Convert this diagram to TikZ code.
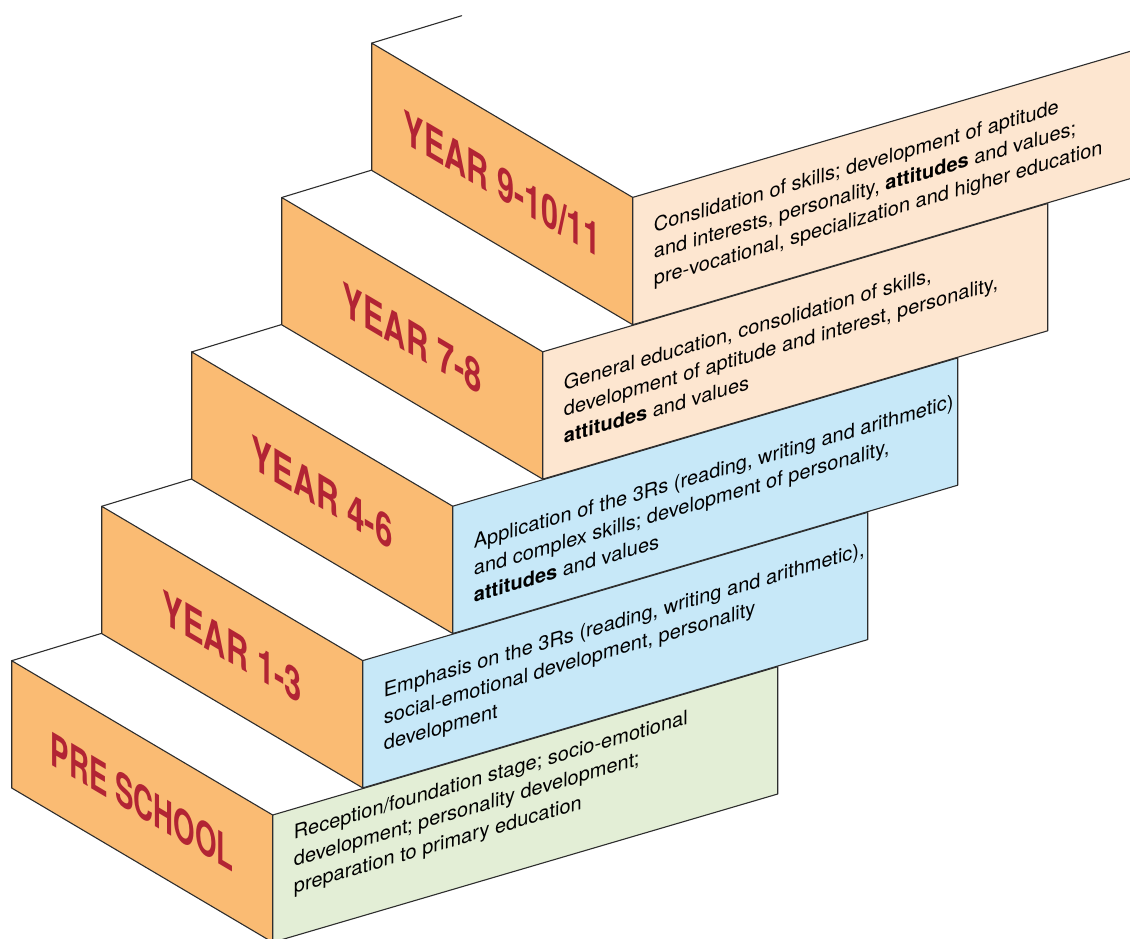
\documentclass[tikz,border=0pt]{standalone}
\usepackage{fontspec}
\setmainfont{TeX Gyre Heros}
\usetikzlibrary{calc}

\definecolor{riser}{RGB}{250,187,115}
\definecolor{pregreen}{RGB}{227,238,214}
\definecolor{primblue}{RGB}{199,232,248}
\definecolor{secpeach}{RGB}{253,230,208}
\definecolor{labred}{RGB}{178,36,52}
\definecolor{edge}{RGB}{45,45,45}

\tikzset{
  face/.style={draw=edge,line width=1.1pt},
  steplabel/.style={font=\bfseries\fontsize{46}{46}\selectfont,text=labred,inner sep=0pt,text depth=0pt,yslant=-0.592},
  sidetext/.style={font=\fontsize{20}{26.8}\selectfont,align=left,anchor=base west,inner sep=0pt,yslant=0.2937}
}

\begin{document}
\begin{tikzpicture}[x=1pt,y=-1pt,line join=round,line cap=round]
\useasboundingbox (0,0) rectangle (1130,938);
\clip (0,0) rectangle (1130,938);
% the five steps, bottom to top
\foreach \i/\c in {0/pregreen,1/primblue,2/primblue,3/secpeach,4/secpeach}{
  \coordinate (A\i) at ($(11.7,660.7)+\i*(90,-154.4)$);
  \coordinate (B\i) at ($(A\i)+(261,154.3)$);
  \coordinate (C\i) at ($(B\i)+(0,127.3)$);
  \coordinate (D\i) at ($(A\i)+(0,127.3)$);
  \coordinate (E\i) at ($(B\i)+(505,-148.3)$);
  \coordinate (G\i) at ($(C\i)+(505,-148.3)$);
  \draw[face,fill=riser](A\i)--(B\i)--(C\i)--(D\i)--cycle;
  \draw[face,fill=\c](B\i)--(E\i)--(G\i)--(C\i)--cycle;
  \draw[face](A\i)--++(90,-27.4);
}
\foreach \i/\lab/\sx in {0/{PRE SCHOOL}/0.60,1/{YEAR 1-3}/0.67,2/{YEAR 4-6}/0.68,3/{YEAR 7-8}/0.67,4/{YEAR 9-10/11}/0.665}{
  \node[steplabel,xscale=\sx] (L\i) at ($(A\i)!0.5!(C\i)$) {\lab};
}
% texts on the side faces (anchored at the last line)
\node[sidetext] (T0) at ($(B0)+(21,78.4)$) {Reception/foundation stage; socio-emotional\\development; personality development;\\preparation to primary education};
\node[sidetext] (T1) at ($(B1)+(21,90.4)$) {Emphasis on the 3Rs (reading, writing and arithmetic),\\social-emotional development, personality\\development};
\node[sidetext] (T2) at ($(B2)+(21,96.4)$) {Application of the 3Rs (reading, writing and arithmetic)\\and complex skills; development of personality,\\\textbf{attitudes} and values};
\node[sidetext] (T3) at ($(B3)+(21,91.9)$) {General education, consolidation of skills,\\development of aptitude and interest, personality,\\\textbf{attitudes} and values};
\node[sidetext] (T4) at ($(B4)+(21,88.4)$) {Conslidation of skills; development of aptitude\\and interests, personality, \textbf{attitudes} and values;\\pre-vocational, specialization and higher education};
\end{tikzpicture}
\end{document}
